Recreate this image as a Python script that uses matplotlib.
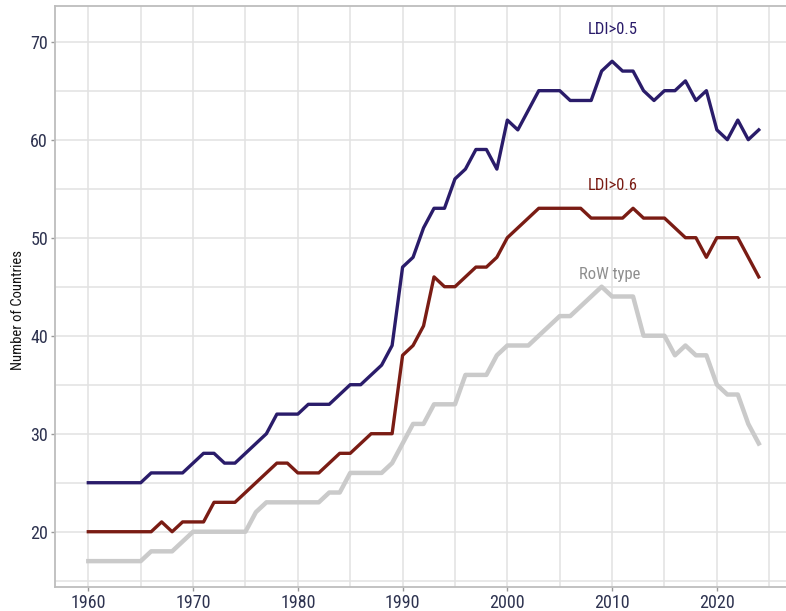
import matplotlib
matplotlib.use("Agg")
import matplotlib.pyplot as plt
from matplotlib import font_manager

years = list(range(1960, 2025))

ldi05 = [25, 25, 25, 25, 25, 25, 26, 26, 26, 26,
         27, 28, 28, 27, 27, 28, 29, 30, 32, 32,
         32, 33, 33, 33, 34, 35, 35, 36, 37, 39,
         47, 48, 51, 53, 53, 56, 57, 59, 59, 57,
         62, 61, 63, 65, 65, 65, 64, 64, 64, 67,
         68, 67, 67, 65, 64, 65, 65, 66, 64, 65,
         61, 60, 62, 60, 61]

ldi06 = [20, 20, 20, 20, 20, 20, 20, 21, 20, 21,
         21, 21, 23, 23, 23, 24, 25, 26, 27, 27,
         26, 26, 26, 27, 28, 28, 29, 30, 30, 30,
         38, 39, 41, 46, 45, 45, 46, 47, 47, 48,
         50, 51, 52, 53, 53, 53, 53, 53, 52, 52,
         52, 52, 53, 52, 52, 52, 51, 50, 50, 48,
         50, 50, 50, 48, 46]

row_type = [17, 17, 17, 17, 17, 17, 18, 18, 18, 19,
            20, 20, 20, 20, 20, 20, 22, 23, 23, 23,
            23, 23, 23, 24, 24, 26, 26, 26, 26, 27,
            29, 31, 31, 33, 33, 33, 36, 36, 36, 38,
            39, 39, 39, 40, 41, 42, 42, 43, 44, 45,
            44, 44, 44, 40, 40, 40, 38, 39, 38, 38,
            35, 34, 34, 31, 29]

series_labels = ["LDI>0.5", "LDI>0.6", "RoW type"]
x_ticks = [1960, 1970, 1980, 1990, 2000, 2010, 2020]
y_ticks = [20, 30, 40, 50, 60, 70]

installed = {f.name for f in font_manager.fontManager.ttflist}
fam = [f for f in ["Roboto Condensed", "Liberation Sans Narrow", "DejaVu Sans"] if f in installed]
if not fam:
    fam = ["DejaVu Sans"]
plt.rcParams["font.family"] = fam

c_blue = "#2a1c6a"
c_red = "#7a1c14"
c_gray = "#cacaca"
tick_col = "#2e3350"

fig = plt.figure(figsize=(7.86, 6.11), dpi=100)
ax = fig.add_axes([55/786, (611-587)/611, 1 - 55/786, (587-6)/611])

ax.plot(years, row_type, color=c_gray, lw=3.2, solid_joinstyle="round", zorder=3)
ax.plot(years, ldi06, color=c_red, lw=2.4, solid_joinstyle="round", zorder=4)
ax.plot(years, ldi05, color=c_blue, lw=2.4, solid_joinstyle="round", zorder=5)

ax.set_xlim(1956.82, 2026.6)
ax.set_ylim(14.36, 73.64)

ax.set_xticks(x_ticks)
ax.set_yticks(y_ticks)
ax.set_xticks(list(range(1960, 2030, 5)), minor=True)
ax.set_yticks(list(range(15, 75, 5)), minor=True)
ax.grid(True, which="both", color="#e2e2e2", lw=1.1, zorder=0)
ax.set_axisbelow(True)

ax.tick_params(axis="both", which="major", colors="#9a9a9a", labelcolor=tick_col,
               labelsize=13, length=3, width=1, pad=2)
ax.tick_params(axis="both", which="minor", length=0)

for s in ["left", "bottom", "top"]:
    ax.spines[s].set_color("#bdbdbd")
    ax.spines[s].set_linewidth(1.3)
ax.spines["right"].set_visible(False)

ax.set_ylabel("Number of Countries", fontsize=10.5, color="#111111")
ax.yaxis.set_label_coords(-0.041, 0.477)

ax.text(2010.1, 71.2, series_labels[0], color=c_blue, fontsize=12, ha="center", va="center")
ax.text(2010.1, 55.3, series_labels[1], color=c_red, fontsize=12, ha="center", va="center")
ax.text(2009.8, 46.2, series_labels[2], color="#8e8e8e", fontsize=12, ha="center", va="center")

fig.savefig("out.png", dpi=100)
